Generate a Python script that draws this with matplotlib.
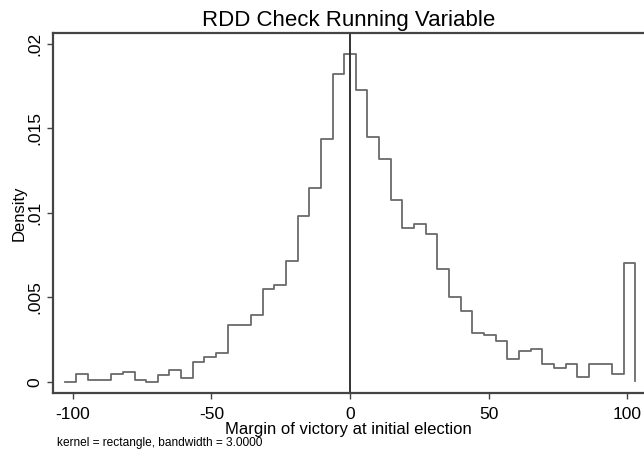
import numpy as np
import matplotlib.pyplot as plt

plt.rcParams["font.family"] = ["Liberation Sans", "DejaVu Sans"]

# ==========================
# Dati
# ==========================

# 50 punti di valutazione della densita' (kernel rettangolare)
x_min = -103.0
x_max = 103.0
n_points = 50

density = [
    0.00000, 0.00046, 0.00010, 0.00010, 0.00046, 0.00057, 0.00010, 0.00000,
    0.00038, 0.00069, 0.00022, 0.00117, 0.00144, 0.00168, 0.00334, 0.00334,
    0.00394, 0.00549, 0.00574, 0.00716, 0.00980, 0.01148, 0.01438, 0.01819,
    0.01939, 0.01724, 0.01446, 0.01316, 0.01077, 0.00909, 0.00933, 0.00872,
    0.00667, 0.00499, 0.00418, 0.00286, 0.00275, 0.00242, 0.00133, 0.00182,
    0.00193, 0.00107, 0.00083, 0.00107, 0.00026, 0.00107, 0.00107, 0.00046,
    0.00704, 0.00003,
]

x_ticks = [-100, -50, 0, 50, 100]
y_ticks = [0, 0.005, 0.01, 0.015, 0.02]
y_tick_labels = ["0", ".005", ".01", ".015", ".02"]

cutoff = 0

# ==========================
# Plot
# ==========================

x_grid = np.linspace(x_min, x_max, n_points)

fig = plt.figure(figsize=(6.44, 4.57), dpi=100)
ax = fig.add_axes([0.0823, 0.1407, 0.9177, 0.7871])

ax.plot(x_grid, density, drawstyle="steps-post", color="#6a6a6a", linewidth=1.3)
ax.axvline(cutoff, color="#333333", linewidth=1.4)

ax.set_xlim(-107.2, 106.1)
ax.set_ylim(-0.00065, 0.02063)

ax.set_xticks(x_ticks)
ax.set_xticklabels([str(t) for t in x_ticks])
ax.set_yticks(y_ticks)
ax.set_yticklabels(y_tick_labels, rotation=90, va="center")

ax.tick_params(axis="both", direction="out", length=4.5, width=1.0,
               color="#444444", labelsize=12.5, labelcolor="black")
ax.tick_params(axis="x", pad=5.5)
ax.tick_params(axis="y", pad=3)

for side in ["left", "bottom", "top"]:
    ax.spines[side].set_color("#444444")
    ax.spines[side].set_linewidth(1.6)
ax.spines["right"].set_visible(False)

ax.set_xlabel("Margin of victory at initial election", fontsize=12, labelpad=0.5)
ax.set_ylabel("Density", fontsize=12, labelpad=1)
ax.set_title("RDD Check Running Variable", fontsize=16, pad=5)

fig.text(57 / 644, 1 - 446 / 457, "kernel = rectangle, bandwidth = 3.0000",
         fontsize=8.6, ha="left", va="baseline")

fig.savefig("out.png", dpi=100)
